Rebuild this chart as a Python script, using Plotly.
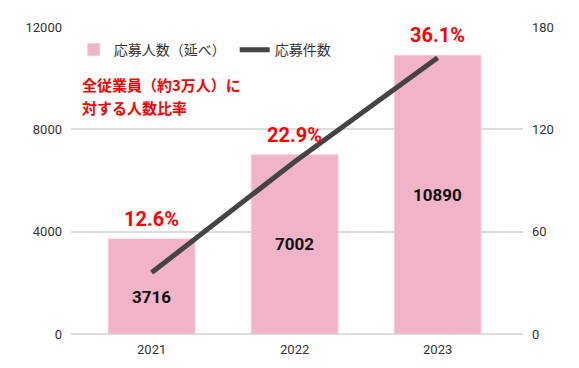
import plotly.graph_objects as go

years = ["2021", "2022", "2023"]
applicants_people = [3716, 7002, 10890]
applications = [36, 101, 162]
ratio_labels = ["12.6%", "22.9%", "36.1%"]
left_ticks = [0, 4000, 8000, 12000]
right_ticks = [0, 60, 120, 180]

FONT = "Roboto, 'Noto Sans CJK JP', sans-serif"
JP = "'Noto Sans CJK JP', Roboto, sans-serif"

fig = go.Figure()
fig.add_trace(go.Bar(
    x=years, y=applicants_people, name="応募人数（延べ）",
    marker=dict(color="#f0b3c8", line=dict(color="#f5c8d7", width=1)),
    width=0.606, yaxis="y",
))
fig.add_trace(go.Scatter(
    x=years, y=applications, name="応募件数", mode="lines",
    line=dict(color="#444444", width=5), yaxis="y2",
))

for i, (v, lab) in enumerate(zip(applicants_people, ratio_labels)):
    fig.add_annotation(x=i, y=v, xref="x", yref="y", text=lab, showarrow=False,
                       yanchor="middle", yshift=20,
                       font=dict(family=FONT, size=20, color="#ff0000", weight="bold"))
    fig.add_annotation(x=i, y=v / 2, xref="x", yref="y", text=str(v), showarrow=False,
                       yanchor="middle", yshift=-11 if i == 0 else 0,
                       font=dict(family=FONT, size=17, color="#111111", weight="bold"))

fig.add_annotation(x=0.020, y=0.812, xref="paper", yref="paper", xanchor="left", yanchor="middle",
                   text="全従業員（約3万人）に", showarrow=False,
                   font=dict(family=JP, size=15, color="#ff0000", weight="bold"))
fig.add_annotation(x=0.020, y=0.737, xref="paper", yref="paper", xanchor="left", yanchor="middle",
                   text="対する人数比率", showarrow=False,
                   font=dict(family=JP, size=15, color="#ff0000", weight="bold"))

fig.update_layout(
    width=579, height=368,
    margin=dict(l=71, r=56, t=27, b=34),
    paper_bgcolor="white", plot_bgcolor="white",
    font=dict(family=FONT, size=13, color="#333333"),
    showlegend=True,
    legend=dict(orientation="h", x=0.006, y=0.925, xanchor="left", yanchor="middle",
                entrywidth=116, entrywidthmode="pixels",
                bgcolor="rgba(0,0,0,0)", font=dict(family=JP, size=14, color="#333333")),
    xaxis=dict(type="category", range=[-0.564, 2.597], showgrid=False, showline=False,
               ticks="", ticklabelstandoff=6, tickfont=dict(size=13, color="#333333")),
    yaxis=dict(range=[0, 12000], tickvals=left_ticks, tickformat="d", showgrid=True,
               gridcolor="#dcdcdc", gridwidth=1.5, zeroline=True, zerolinecolor="#dcdcdc",
               zerolinewidth=1.5, ticks="", ticklabelstandoff=8),
    yaxis2=dict(range=[0, 180], tickvals=right_ticks, tickformat="d", overlaying="y",
                side="right", showgrid=False, zeroline=False, ticks="", ticklabelstandoff=8),
)

fig.write_html("out.html", config={"displayModeBar": False},
               post_script="document.body.style.margin='0';")
